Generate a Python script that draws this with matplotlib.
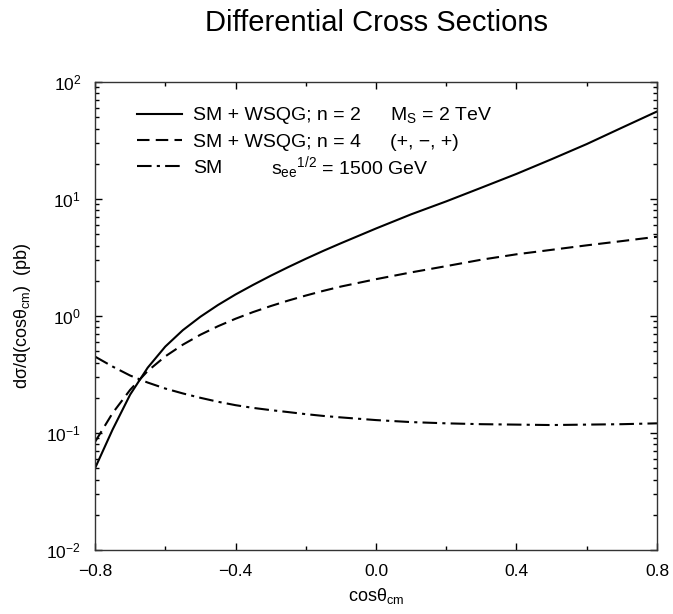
import numpy as np
import matplotlib
matplotlib.use("Agg")
import matplotlib.pyplot as plt

plt.rcParams['font.family'] = ['Liberation Sans', 'DejaVu Sans']
plt.rcParams['mathtext.fontset'] = 'custom'
plt.rcParams['mathtext.rm'] = 'Liberation Sans'
plt.rcParams['mathtext.it'] = 'Liberation Sans:italic'

# cos(theta_cm) grid
cos_theta = [-0.8, -0.75, -0.7, -0.65, -0.6, -0.55, -0.5, -0.45, -0.4,
             -0.35, -0.3, -0.25, -0.2, -0.15, -0.1, 0.0,
             0.1, 0.2, 0.3, 0.4, 0.5, 0.6, 0.7, 0.8]

# SM + WSQG, n = 2 (pb)
sig_n2 = [0.050, 0.107, 0.213, 0.362, 0.548, 0.757, 0.986, 1.242, 1.528,
          1.845, 2.208, 2.618, 3.083, 3.606, 4.188, 5.6,
          7.4, 9.55, 12.5, 16.4, 21.9, 29.5, 40.7, 56.0]
# SM + WSQG, n = 4 (pb)
sig_n4 = [0.084, 0.148, 0.234, 0.339, 0.452, 0.569, 0.692, 0.818, 0.948,
          1.081, 1.216, 1.355, 1.496, 1.641, 1.786, 2.065,
          2.36, 2.67, 3.03, 3.37, 3.68, 4.02, 4.37, 4.76]
# SM only (pb)
sig_sm = [0.45, 0.37, 0.31, 0.27, 0.24, 0.218, 0.20, 0.185, 0.173,
          0.164, 0.157, 0.151, 0.145, 0.140, 0.136, 0.129,
          0.124, 0.121, 0.119, 0.118, 0.117, 0.118, 0.119, 0.121]

labels = ['SM + WSQG; n = 2', 'SM + WSQG; n = 4', 'SM']

fig = plt.figure(figsize=(6.73, 6.14), dpi=100)
ax = fig.add_axes([0.1412, 0.1042, 0.835, 0.7622])

l1, = ax.plot(cos_theta, sig_n2, color='black', lw=1.5)
l2, = ax.plot(cos_theta, sig_n4, color='black', lw=1.5, dashes=(6, 3))
l3, = ax.plot(cos_theta, sig_sm, color='black', lw=1.5, dashes=(7, 2.5, 1.5, 2.5))

ax.set_yscale('log')
ax.set_xlim(-0.8, 0.8)
ax.set_ylim(1e-2, 1e2)
ax.set_xticks([-0.8, -0.4, 0.0, 0.4, 0.8])
ax.set_xticklabels(['\u22120.8', '\u22120.4', '0.0', '0.4', '0.8'])
ax.set_xticks([-0.6, -0.2, 0.2, 0.6], minor=True)

ax.tick_params(which='both', direction='in', top=True, right=True, labelsize=12.5, pad=10)
ax.tick_params(which='major', length=5, width=1)
ax.tick_params(which='minor', length=3, width=1)
for sp in ax.spines.values():
    sp.set_linewidth(1.0)
    sp.set_color('#333333')

ax.set_xlabel('cos\u03b8$_{\\rm cm}$', fontsize=13, labelpad=5)
ax.set_ylabel('d\u03c3/d(cos\u03b8$_{\\rm cm}$)  (pb)', fontsize=13, labelpad=10)
ax.set_title('Differential Cross Sections', fontsize=21, pad=37)

ax.legend([l1, l2, l3], labels, loc='upper left', bbox_to_anchor=(0.0747, 0.947),
          frameon=False, fontsize=14, handlelength=2.3, handletextpad=0.57,
          labelspacing=0.45, borderpad=0, borderaxespad=0)

ax.text(0.525, 0.930, r'M$_{\rm S}$ = 2 TeV', transform=ax.transAxes, fontsize=14, va='center')
ax.text(0.525, 0.870, '(+, \u2212, +)', transform=ax.transAxes, fontsize=14, va='center')
ax.text(0.314, 0.818, r's$_{\rm ee}{}^{1/2}$ = 1500 GeV', transform=ax.transAxes, fontsize=14, va='center')

fig.savefig('out.png', dpi=100)
